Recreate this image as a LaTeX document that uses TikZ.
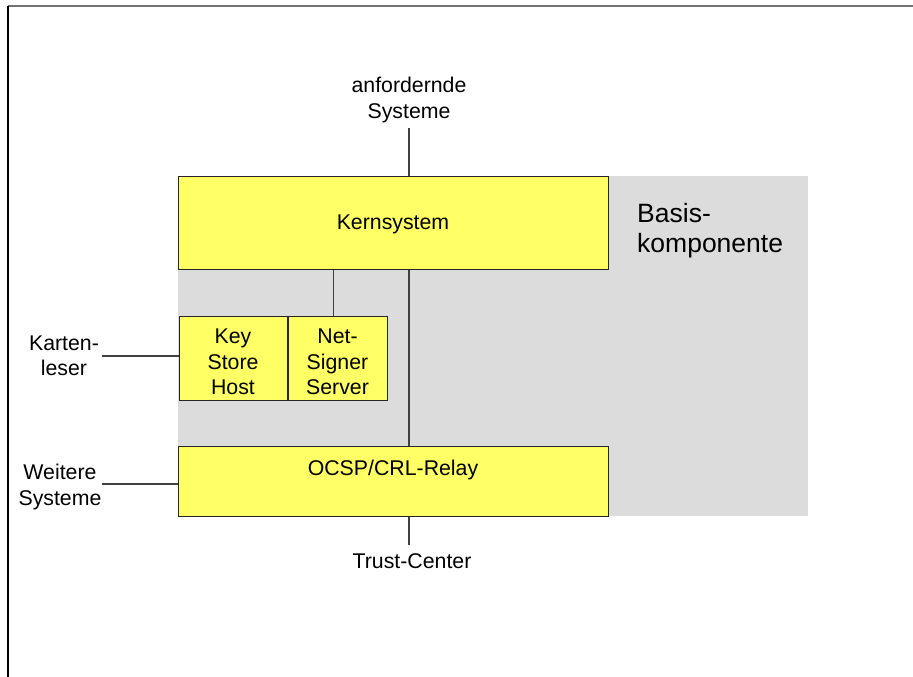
\documentclass[tikz,border=0pt]{standalone}
\usepackage{fontspec}
\setmainfont{Liberation Sans}
\usetikzlibrary{positioning}
\definecolor{gelb}{HTML}{FFFF66}
\definecolor{grau}{HTML}{DCDCDC}
\tikzstyle{box} = [rectangle, draw=black!85, line width=1pt, fill=gelb, text centered, align=center, inner sep=0pt, font=\fontsize{21.3}{25.5}\selectfont]
\tikzstyle{txt} = [inner sep=0pt, align=center, font=\fontsize{21.3}{25.5}\selectfont]
\tikzstyle{link} = [draw=black!75, line width=1.1pt]

\begin{document}
\begin{tikzpicture}[x=1pt, y=-1pt]
\useasboundingbox (0,0) rectangle (913,677);
% frame
\draw [black!55, line width=2pt] (8,6) -- (913,6);
\draw [black, line width=1.3pt] (8,6) -- (8,677);
% grey area
\fill [grau] (178,176) rectangle (808,516);
\node (basis) [txt, align=left, anchor=west, font=\fontsize{26.5}{30}\selectfont] at (637,231) {Basis-\\komponente};

\node (kern) [box, minimum width=430pt, minimum height=93pt, text depth=-1.5pt] at (393,222.5) {Kernsystem};
\node (keystore) [box, minimum width=108pt, minimum height=84pt, label={[txt, yshift=-4pt]center:Key\\Store\\Host}] at (233,358) {};
\node (netsigner) [box, minimum width=99pt, minimum height=84pt, right=0pt of keystore, label={[txt, yshift=-4pt]center:Net-\\Signer\\Server}] {};
\node (ocsp) [box, minimum width=430pt, minimum height=70pt, label={[txt, anchor=north, yshift=-14pt]north:OCSP/CRL-Relay}] at (393,481) {};

\node (anf) [txt, inner ysep=5pt] at (409,100) {anfordernde\\Systeme};
\node (karten) [txt, inner xsep=3pt] at (64,356) {Karten-\\leser};
\node (weitere) [txt] at (60,487) {Weitere\\Systeme};
\node (trust) [txt, inner ysep=9pt] at (412,561.5) {Trust-Center};

\draw [link] (anf.south) -- (anf.south |- kern.north);
\draw [link] (kern.south -| netsigner.north) ++(-4,0) -- ([xshift=-4pt]netsigner.north);
\draw [link] (kern.south -| anf.south) -- (ocsp.north -| anf.south);
\draw [link] (ocsp.south -| anf.south) -- (trust.north -| anf.south);
\draw [link] (karten.east) -- (karten.east -| keystore.west);
\draw [link] ([yshift=3pt]weitere.east) -- ([yshift=3pt]weitere.east -| ocsp.west);
\end{tikzpicture}
\end{document}
